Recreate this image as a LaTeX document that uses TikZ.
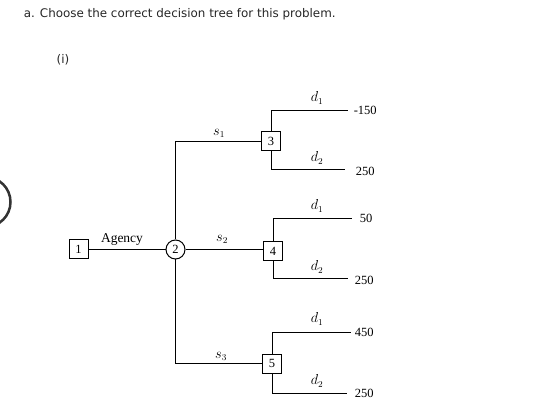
\documentclass[tikz,border=0pt]{standalone}
\usepackage{fontspec}
\setmainfont{Liberation Serif}
\newfontfamily\titlefont{DejaVu Sans}

\begin{document}
\begin{tikzpicture}[x=1pt, y=-1pt, line width=1pt,
    decbox/.style={draw, minimum size=19pt, inner sep=0pt, font=\fontsize{12.5}{12.5}\selectfont},
    chance/.style={draw, circle, minimum size=19pt, inner sep=0pt, font=\fontsize{12.5}{12.5}\selectfont},
    branch/.style={font=\fontsize{13.5}{13.5}\selectfont},
    payoff/.style={anchor=west, font=\fontsize{12.5}{12.5}\selectfont}]
    \useasboundingbox (0,0) rectangle (555,417);
    % heading
    \node[anchor=west, text=black!85, font=\titlefont\fontsize{11.9}{11.9}\selectfont] (head) at (20,14) {a. Choose the correct decision tree for this problem.};
    \node[text=black!85, font=\titlefont\fontsize{11.9}{11.9}\selectfont] (opt) at (63,60) {(i)};
    \begin{scope}
        \clip (0,0) rectangle (555,417);
        \draw[line width=2.5pt, black!80] (-14.5,202) circle (25);
    \end{scope}
    % nodes
    \node[decbox] (n1) at (78.5,249.5) {1};
    \node[chance] (n2) at (175.5,249.5) {2};
    \node[decbox] (n3) at (271,141.5) {3};
    \node[decbox] (n4) at (273,251) {4};
    \node[decbox] (n5) at (272,363.5) {5};
    \coordinate (up) at (175.5,141.5);
    \coordinate (dn) at (175.5,363.5);
    \draw (n1) -- (n2);
    \draw (n2) -- (up) -- (n3);
    \draw (n2) -- (n2 -| n4.west);
    \draw (n2) -- (dn) -- (n5);
    % outcome ends
    \foreach \k/\ya/\yb/\xa/\xb in {3/111/170/348/345, 4/219/279/352/348, 5/332/393/351/347} {
        \coordinate (a\k) at (n\k |- 0,\ya);
        \coordinate (b\k) at (n\k |- 0,\yb);
        \coordinate (ea\k) at (\xa,\ya);
        \coordinate (eb\k) at (\xb,\yb);
        \draw (n\k) -- (a\k) -- (ea\k);
        \draw (n\k) -- (b\k) -- (eb\k);
        \node[branch] (da\k) at (317,\ya-13) {$d_1$};
        \node[branch] (db\k) at (317,\yb-12) {$d_2$};
    }
    % labels
    \node[branch] (agency) at (122,240) {Agency};
    \node[branch] (s1) at (219,133) {$s_1$};
    \node[branch] (s2) at (222,239) {$s_2$};
    \node[branch] (s3) at (221,356) {$s_3$};
    \node[payoff] (p1) at (350,110) {-150};
    \node[payoff] (p2) at (352,171) {250};
    \node[payoff] (p3) at (356,218) {50};
    \node[payoff] (p4) at (351,280) {250};
    \node[payoff] (p5) at (351,332) {450};
    \node[payoff] (p6) at (351,393) {250};
\end{tikzpicture}
\end{document}
